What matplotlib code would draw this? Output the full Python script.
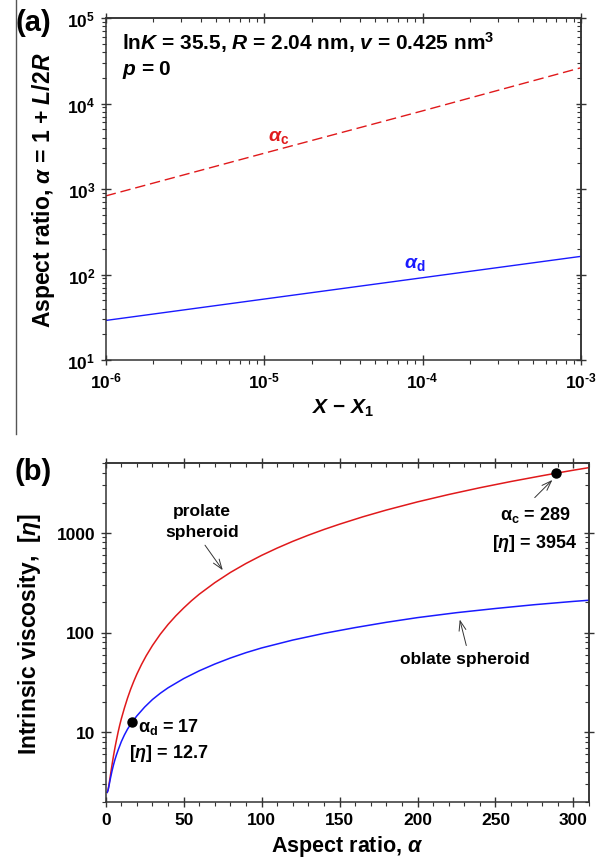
import matplotlib
matplotlib.use("Agg")
import matplotlib.pyplot as plt
from matplotlib.lines import Line2D
from matplotlib.ticker import LogLocator, MultipleLocator, FixedLocator, NullFormatter

# ---------------- data ----------------
# panel (a)
x_a = [1e-6, 1e-5, 1e-4, 1e-3]
alpha_c = [830, 2620, 8200, 26200]
alpha_d = [29.0, 51.6, 91.7, 163]

# panel (b)
prolate_a = [1, 1.5, 2, 2.5, 3, 4, 5, 6, 7, 8, 9, 10, 12, 14, 16, 18, 20, 23, 26, 30,
             35, 40, 45, 50, 55, 60, 70, 80, 90, 100, 110, 120, 130, 140, 150, 165,
             180, 200, 220, 240, 260, 280, 289, 300, 310]
prolate_eta = [2.5, 2.63, 2.91, 3.27, 3.68, 4.66, 5.81, 7.10, 8.5, 10.1, 11.8, 13.6,
               17.5, 22.0, 27.0, 32.4, 38.3, 47.9, 58.5, 74.1, 96.0, 120.4, 147, 176,
               208, 242, 316, 400, 492, 593, 702, 820, 945, 1078, 1218, 1445, 1688,
               2038, 2416, 2825, 3263, 3730, 3954, 4235, 4495]
oblate_a = [1, 1.5, 2, 3, 4, 5, 6, 7, 8, 10, 12, 14, 17, 20, 25, 30, 35, 40, 50, 60,
            70, 80, 90, 100, 120, 140, 160, 180, 200, 225, 250, 275, 300, 310]
oblate_eta = [2.5, 2.62, 2.85, 3.43, 4.06, 4.71, 5.36, 6.0, 6.65, 8.04, 9.4, 10.75,
              12.7, 14.6, 17.9, 21.3, 24.6, 27.9, 34.5, 41.3, 48.3, 55.5, 62.8, 70,
              84, 98, 112, 126.5, 141, 158, 174, 190, 205, 210.5]
pt_c = (289, 3954)
pt_d = (17, 12.7)

a_xticks = [1e-6, 1e-5, 1e-4, 1e-3]
a_xticklabels = [r'$\mathbf{10^{\text{-}6}}$', r'$\mathbf{10^{\text{-}5}}$',
                 r'$\mathbf{10^{\text{-}4}}$', r'$\mathbf{10^{\text{-}3}}$']
a_yticks = [1e1, 1e2, 1e3, 1e4, 1e5]
a_yticklabels = [r'$\mathbf{10^{1}}$', r'$\mathbf{10^{2}}$', r'$\mathbf{10^{3}}$',
                 r'$\mathbf{10^{4}}$', r'$\mathbf{10^{5}}$']
b_xticks = [0, 50, 100, 150, 200, 250, 300]
b_yticks = [10, 100, 1000]
b_yticklabels = ['10', '100', '1000']

# ---------------- style ----------------
plt.rcParams['font.family'] = ['Liberation Sans', 'DejaVu Sans']
plt.rcParams['font.weight'] = 'bold'
plt.rcParams['mathtext.fontset'] = 'custom'
plt.rcParams['mathtext.rm'] = 'Liberation Sans:bold'
plt.rcParams['mathtext.bf'] = 'Liberation Sans:bold'
plt.rcParams['mathtext.it'] = 'Liberation Sans:italic:bold'
plt.rcParams['mathtext.sf'] = 'Liberation Sans:bold'

W, H = 606, 862
fig = plt.figure(figsize=(W / 100, H / 100), dpi=100)

def fx(x):
    return x / W

def fy(y):
    return 1 - y / H

RED = '#e0191b'
BLUE = '#1a1aff'
SPINE = '#333333'

def axes_px(l, t, r, b):
    return fig.add_axes([fx(l), fy(b), (r - l) / W, (b - t) / H])

def style_axes(ax):
    for s in ax.spines.values():
        s.set_linewidth(1.1)
        s.set_color(SPINE)
    ax.tick_params(which='major', direction='inout', length=7, width=1.0, color=SPINE,
                   labelsize=12.5, pad=4)
    ax.tick_params(which='minor', direction='out', length=2.6, width=0.8, color=SPINE)
    for lab in ax.get_xticklabels() + ax.get_yticklabels():
        lab.set_fontweight('bold')

def mirror(ax, xloc_major, xloc_minor, yloc_major, yloc_minor):
    top = ax.secondary_xaxis('top')
    right = ax.secondary_yaxis('right')
    top.xaxis.set_major_locator(xloc_major)
    top.xaxis.set_minor_locator(xloc_minor)
    right.yaxis.set_major_locator(yloc_major)
    right.yaxis.set_minor_locator(yloc_minor)
    for sec in (top, right):
        sec.tick_params(which='major', direction='inout', length=7, width=1.0, color=SPINE)
        sec.tick_params(which='minor', direction='in', length=2.6, width=0.8, color=SPINE)
        sec.tick_params(labeltop=False, labelright=False, labelbottom=False, labelleft=False)
        for s in sec.spines.values():
            s.set_linewidth(1.1)
            s.set_color(SPINE)
    top.xaxis.set_major_formatter(NullFormatter())
    top.xaxis.set_minor_formatter(NullFormatter())
    right.yaxis.set_major_formatter(NullFormatter())
    right.yaxis.set_minor_formatter(NullFormatter())

# ---------------- panel (a) ----------------
axa = axes_px(105.7, 19, 581, 361)
axa.set_xscale('log')
axa.set_yscale('log')
axa.set_xlim(1e-6, 1e-3)
axa.set_ylim(1e1, 1e5)
axa.plot(x_a, alpha_c, color=RED, lw=1.0, dashes=(7.5, 3.5))
axa.plot(x_a, alpha_d, color=BLUE, lw=1.0)
axa.set_xticks(a_xticks)
axa.set_xticklabels(a_xticklabels)
axa.set_yticks(a_yticks)
axa.set_yticklabels(a_yticklabels)
axa.xaxis.set_minor_locator(LogLocator(base=10, subs=range(2, 10), numticks=20))
axa.yaxis.set_minor_locator(LogLocator(base=10, subs=range(2, 10), numticks=20))
axa.xaxis.set_minor_formatter(NullFormatter())
axa.yaxis.set_minor_formatter(NullFormatter())
style_axes(axa)
mirror(axa, FixedLocator(a_xticks), LogLocator(base=10, subs=range(2, 10), numticks=20),
       FixedLocator(a_yticks), LogLocator(base=10, subs=range(2, 10), numticks=20))
axa.set_ylabel(r'Aspect ratio, $\alpha$ = 1 + $L$/2$R$', fontsize=16.5, fontweight='bold')
axa.yaxis.set_label_coords((44 - 105.7) / 475.3, 0.5)
axa.yaxis.label.set_va('center')
axa.set_xlabel(r'$X$ $-$ $X_\mathbf{1}$', fontsize=15, fontweight='bold')
axa.xaxis.set_label_coords(0.5, -(408 - 361) / 342)
axa.xaxis.label.set_va('center')

axa.text(1.24e-5, 4100, r'$\alpha_\mathbf{c}$', color=RED, fontsize=14, ha='center', va='center')
axa.text(8.9e-5, 133, r'$\alpha_\mathbf{d}$', color=BLUE, fontsize=14, ha='center', va='center')

fig.text(fx(122), fy(50), r'ln$K$ = 35.5, $R$ = 2.04 nm, $v$ = 0.425 nm$^\mathbf{3}$',
         fontsize=15, fontweight='bold', ha='left', va='baseline')
fig.text(fx(122), fy(75), r'$p$ = 0', fontsize=15, fontweight='bold', ha='left', va='baseline')

fig.text(fx(33), fy(23), '(a)', fontsize=21, fontweight='bold', ha='center', va='center')

# stray vertical line at left
fig.add_artist(Line2D([fx(16), fx(16)], [fy(0), fy(435)], color='#555555', lw=1.0))

# ---------------- panel (b) ----------------
axb = axes_px(105.7, 464, 589, 803)
axb.set_yscale('log')
axb.set_xlim(0, 310)
axb.set_ylim(2, 5000)
axb.plot(prolate_a, prolate_eta, color=RED, lw=1.1)
axb.plot(oblate_a, oblate_eta, color=BLUE, lw=1.1)
axb.plot([pt_c[0]], [pt_c[1]], 'o', color='black', ms=6.5, zorder=5)
axb.plot([pt_d[0]], [pt_d[1]], 'o', color='black', ms=6.5, zorder=5)
axb.set_xticks(b_xticks)
axb.set_xticklabels([str(v) for v in b_xticks])
axb.xaxis.set_minor_locator(MultipleLocator(10))
axb.set_yticks(b_yticks)
axb.set_yticklabels(b_yticklabels)
axb.yaxis.set_minor_locator(LogLocator(base=10, subs=range(2, 10), numticks=20))
axb.yaxis.set_minor_formatter(NullFormatter())
style_axes(axb)
mirror(axb, FixedLocator(b_xticks), MultipleLocator(10),
       FixedLocator(b_yticks), LogLocator(base=10, subs=range(2, 10), numticks=20))
axb.set_ylabel(r'Intrinsic viscosity,  [$\mathit{\eta}$]', fontsize=16.5, fontweight='bold')
axb.yaxis.set_label_coords((30 - 105.7) / 483.3, 0.5)
axb.yaxis.label.set_va('center')
axb.set_xlabel(r'Aspect ratio, $\alpha$', fontsize=15.5, fontweight='bold')
axb.xaxis.set_label_coords(0.5, -(847 - 803) / 339)
axb.xaxis.label.set_va('center')

arrow_kw = dict(arrowstyle='->,head_length=0.7,head_width=0.25', lw=0.7, color='#333333',
                shrinkA=0, shrinkB=0)
axb.annotate('', xy=(75.1, 421), xytext=(63.7, 750), arrowprops=arrow_kw)
axb.annotate('', xy=(227.1, 135), xytext=(231.3, 74), arrowprops=arrow_kw)
axb.annotate('', xy=(286.5, 3381), xytext=(275.2, 2250), arrowprops=arrow_kw)

fig.text(fx(202.3), fy(511.7), 'prolate', fontsize=12.5, fontweight='bold', ha='center', va='center')
fig.text(fx(202.3), fy(532.7), 'spheroid', fontsize=12.5, fontweight='bold', ha='center', va='center')
fig.text(fx(464.7), fy(660), 'oblate spheroid', fontsize=12.5, fontweight='bold', ha='center', va='center')
fig.text(fx(535.3), fy(515), r'$\mathrm{\alpha}_\mathbf{c}$ = 289', fontsize=13, fontweight='bold',
         ha='center', va='center')
fig.text(fx(535), fy(543), r'[$\mathit{\eta}$] = 3954', fontsize=13, fontweight='bold',
         ha='center', va='center')
fig.text(fx(138.3), fy(727), r'$\mathrm{\alpha}_\mathbf{d}$ = 17', fontsize=13, fontweight='bold',
         ha='left', va='center')
fig.text(fx(129.3), fy(754), r'[$\mathit{\eta}$] = 12.7', fontsize=13, fontweight='bold',
         ha='left', va='center')

fig.text(fx(33), fy(472), '(b)', fontsize=21, fontweight='bold', ha='center', va='center')

fig.savefig('out.png', dpi=100)
